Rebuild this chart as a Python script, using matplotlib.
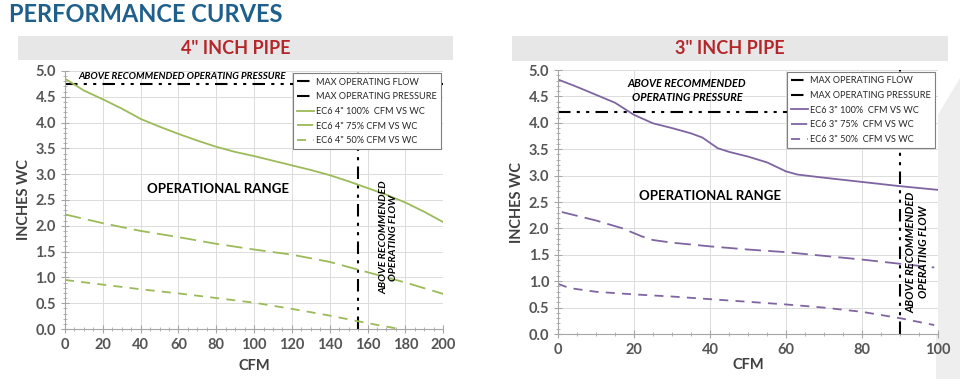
import matplotlib.pyplot as plt
from matplotlib.patches import Rectangle, Polygon
from matplotlib.ticker import MultipleLocator

plt.rcParams['font.family'] = ['Lato', 'DejaVu Sans']
plt.rcParams['font.weight'] = 'bold'  # tick labels, axis labels and notes are all bold

# 4" pipe
cfm4_100 = [0, 10, 20, 30, 40, 50, 60, 70, 80, 90, 100, 110, 120, 130, 140, 150, 160, 170, 180, 190, 200]
wc4_100 = [4.85, 4.62, 4.45, 4.27, 4.07, 3.92, 3.78, 3.65, 3.53, 3.43, 3.35, 3.26, 3.17, 3.08, 2.98, 2.86, 2.73, 2.6, 2.45, 2.27, 2.07]
cfm4_75 = [0, 20, 40, 60, 80, 100, 120, 140, 155, 160, 180, 200]
wc4_75 = [2.22, 2.05, 1.9, 1.78, 1.65, 1.54, 1.44, 1.3, 1.15, 1.1, 0.9, 0.68]
cfm4_50 = [0, 20, 40, 60, 80, 100, 120, 140, 155, 165, 177]
wc4_50 = [0.95, 0.86, 0.77, 0.69, 0.6, 0.51, 0.39, 0.26, 0.15, 0.08, 0.0]
max_flow4 = 155
max_press4 = 4.75

# 3" pipe
cfm3_100 = [0, 5, 10, 15, 20, 25, 30, 35, 38, 42, 45, 50, 55, 60, 63, 70, 80, 90, 100]
wc3_100 = [4.82, 4.68, 4.53, 4.38, 4.15, 3.99, 3.9, 3.8, 3.72, 3.52, 3.45, 3.36, 3.25, 3.08, 3.02, 2.96, 2.88, 2.8, 2.73]
cfm3_75 = [1, 10, 17, 22, 25, 30, 40, 50, 60, 70, 80, 90, 99]
wc3_75 = [2.31, 2.15, 2.0, 1.85, 1.78, 1.73, 1.66, 1.6, 1.55, 1.48, 1.41, 1.33, 1.26]
cfm3_50 = [0, 3, 10, 20, 30, 40, 50, 60, 70, 80, 90, 99]
wc3_50 = [0.95, 0.87, 0.8, 0.75, 0.71, 0.66, 0.61, 0.56, 0.5, 0.42, 0.3, 0.17]
max_flow3 = 90
max_press3 = 4.2

GREEN = '#9bbb59'
PURPLE = '#8064a2'
DDOT = (0, (6, 3, 1.5, 3, 1.5, 3))
W, H = 960, 379

fig = plt.figure(figsize=(9.6, 3.79), dpi=100)

# faint slide decoration at right edge
fig.patches.append(Polygon([[960 / W, 1 - 78 / H], [936 / W, 1 - 118 / H], [936 / W, 0], [1, 0]], closed=True,
                           transform=fig.transFigure, facecolor='#eeeeee', edgecolor='none', zorder=-5))

fig.text(0.009, 0.962, 'PERFORMANCE CURVES', fontsize=17, fontweight='bold',
         color='#1f5f8b', va='center', ha='left')


def band(x0, x1, y0, y1, label):
    fig.patches.append(Rectangle((x0 / W, 1 - y1 / H), (x1 - x0) / W, (y1 - y0) / H,
                                 transform=fig.transFigure, facecolor='#e7e7e7', edgecolor='none', zorder=-1))
    fig.text((x0 + x1) / 2 / W, 1 - (y0 + y1) / 2 / H, label, fontsize=13, fontweight='bold',
             color='#b5262b', ha='center', va='center')


band(18, 453, 36, 60, '4" INCH PIPE')
band(512, 948, 36, 61, '3" INCH PIPE')


def setup(ax, xmax, xpad):
    ax.set_xlim(0, xmax)
    ax.set_ylim(0, 5)
    ax.xaxis.set_major_locator(MultipleLocator(20))
    ax.xaxis.set_minor_locator(MultipleLocator(5))
    ax.yaxis.set_major_locator(MultipleLocator(0.5))
    ax.yaxis.set_minor_locator(MultipleLocator(0.1))
    ax.yaxis.set_major_formatter('{x:.1f}')
    ax.grid(True, which='major', color='#dcdcdc', linewidth=0.7)
    ax.set_axisbelow(True)
    for s in ['top', 'right']:
        ax.spines[s].set_visible(False)
    for s in ['left', 'bottom']:
        ax.spines[s].set_color('#a6a6a6')
    ax.tick_params(which='both', colors='#a6a6a6', labelcolor='#555555', labelsize=10.5, direction='inout')
    ax.tick_params(which='major', length=6)
    ax.tick_params(which='minor', length=3)
    ax.set_xlabel('CFM', fontsize=10.5, fontweight='bold', color='#404040', labelpad=xpad)
    ax.set_ylabel('INCHES WC', fontsize=10.5, fontweight='bold', color='#404040', labelpad=3)


def legend(ax, anchor):
    leg = ax.legend(loc='upper right', bbox_to_anchor=anchor, frameon=True, fancybox=False,
                    prop={'size': 6.6, 'weight': 'normal'},
                    edgecolor='#7f7f7f', framealpha=1, borderpad=0.45, labelspacing=0.62,
                    handlelength=1.9, handletextpad=0.2, borderaxespad=0)
    leg.get_frame().set_linewidth(0.8)
    for t in leg.get_texts():
        t.set_color('#262626')


ax1 = fig.add_axes([0.0677, 0.1319, 0.394, 0.681])
setup(ax1, 200, 5)
ax1.axvline(max_flow4, color='black', linestyle=DDOT, linewidth=1.5, label='MAX OPERATING FLOW')
ax1.axhline(max_press4, color='black', linestyle=DDOT, linewidth=1.5, label='MAX OPERATING PRESSURE')
ax1.plot(cfm4_100, wc4_100, color=GREEN, linewidth=1.3, label='EC6 4" 100%  CFM VS WC')
ax1.plot(cfm4_75, wc4_75, color=GREEN, linewidth=1.3, linestyle=(0, (9, 4)), label='EC6 4" 75% CFM VS WC')
ax1.plot(cfm4_50, wc4_50, color=GREEN, linewidth=1.3, linestyle=(0, (5, 4)), label='EC6 4" 50% CFM VS WC')
ax1.text(62, 4.89, 'ABOVE RECOMMENDED OPERATING PRESSURE', fontsize=7, fontweight='bold',
         style='italic', ha='center', va='center', color='black')
ax1.text(81, 2.72, 'OPERATIONAL RANGE', fontsize=9.5, fontweight='bold', ha='center', va='center', color='black')
ax1.text(171, 1.77, 'ABOVE RECOMMENDED\nOPERATING FLOW', fontsize=7.5, fontweight='bold', style='italic',
         rotation=90, ha='center', va='center', color='black', linespacing=1.1)
legend(ax1, (0.994, 0.99))

ax2 = fig.add_axes([0.5813, 0.1187, 0.3958, 0.6966])
setup(ax2, 100, 1)
ax2.axvline(max_flow3, color='black', linestyle=DDOT, linewidth=1.5, label='MAX OPERATING FLOW')
ax2.hlines(max_press3, 0, 98, color='black', linestyle=DDOT, linewidth=1.5, label='MAX OPERATING PRESSURE')
ax2.plot(cfm3_100, wc3_100, color=PURPLE, linewidth=1.3, label='EC6 3" 100%  CFM VS WC')
ax2.plot(cfm3_75, wc3_75, color=PURPLE, linewidth=1.3, linestyle=(0, (9, 4)), label='EC6 3" 75%  CFM VS WC')
ax2.plot(cfm3_50, wc3_50, color=PURPLE, linewidth=1.3, linestyle=(0, (5, 4)), label='EC6 3" 50%  CFM VS WC')
ax2.text(34, 4.61, 'ABOVE RECOMMENDED\nOPERATING PRESSURE', fontsize=7.8, fontweight='bold',
         style='italic', ha='center', va='center', color='black', linespacing=1.3)
ax2.text(40, 2.61, 'OPERATIONAL RANGE', fontsize=9.5, fontweight='bold', ha='center', va='center', color='black')
ax2.text(94.5, 1.55, 'ABOVE RECOMMENDED\nOPERATING FLOW', fontsize=8, fontweight='bold', style='italic',
         rotation=90, ha='center', va='center', color='black', linespacing=1.2)
legend(ax2, (0.992, 0.992))

fig.savefig('out.png', dpi=100)
